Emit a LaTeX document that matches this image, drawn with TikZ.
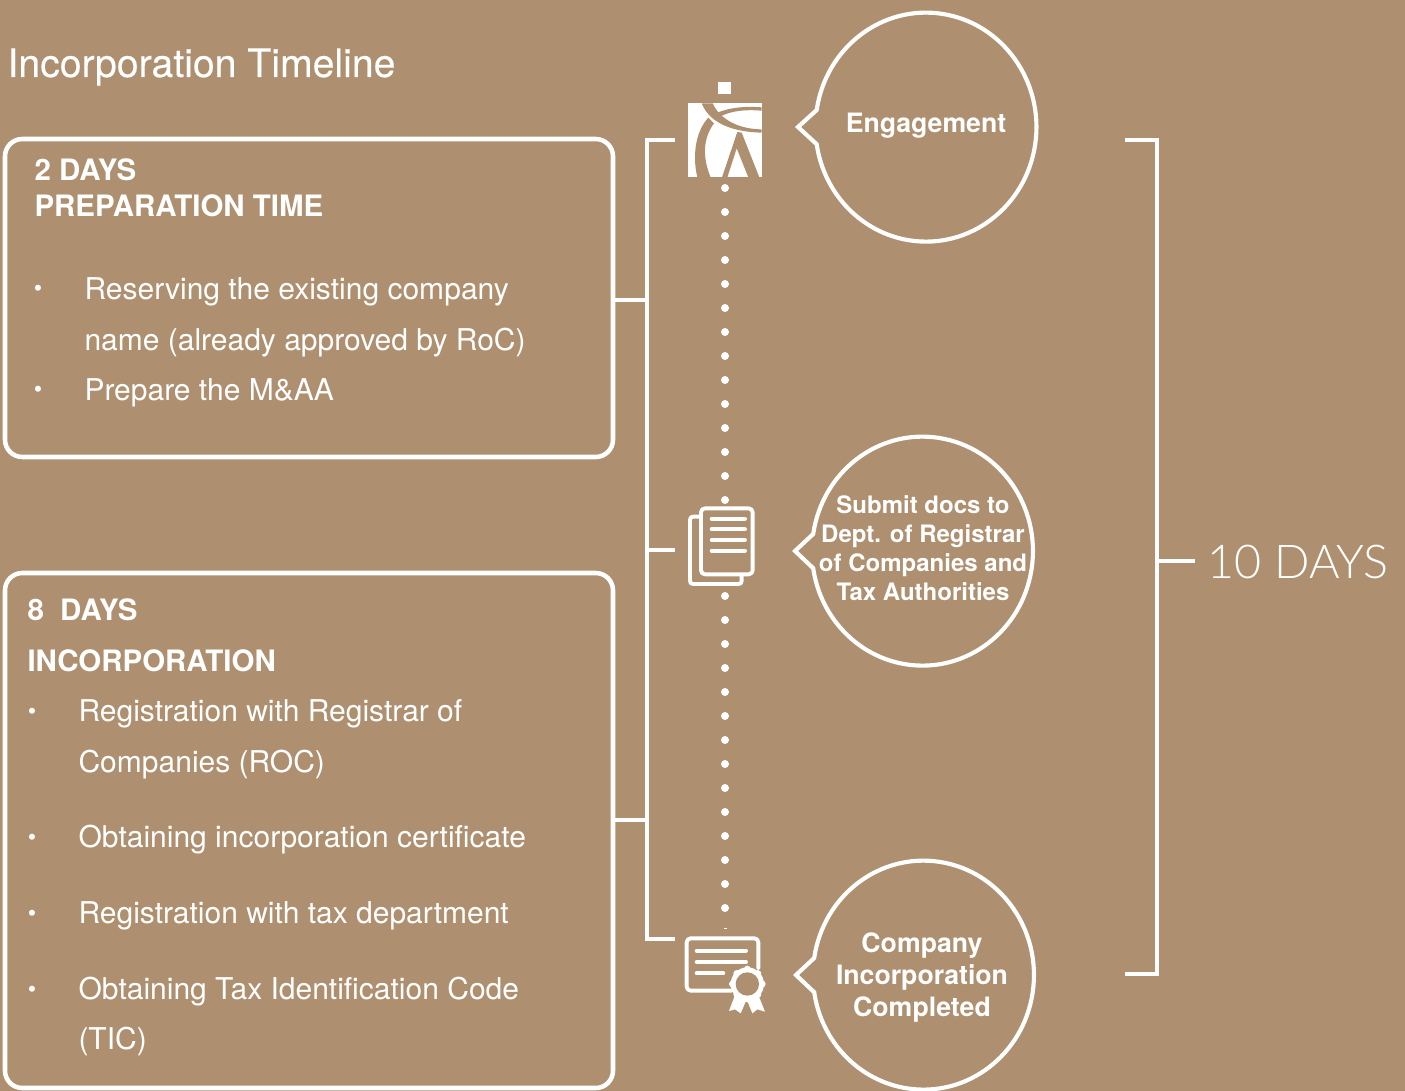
\documentclass[tikz,border=0pt]{standalone}
\usepackage{fontspec}
\usetikzlibrary{calc}
\setmainfont{TeX Gyre Heros}
\newfontfamily\lightfont{Lato Light}
\newfontfamily\titlefont[FakeBold=0.25]{TeX Gyre Heros}
\definecolor{tanbg}{RGB}{174,144,112}
\tikzset{every picture/.style={line width=0.75pt}}
\tikzset{
	rule/.style={draw=white,line width=3.2pt},
	thinrule/.style={draw=white,line width=2.9pt,line cap=round,line join=round},
	infobox/.style={draw=white,line width=3.4pt,rounded corners=13pt,minimum width=456pt,outer sep=0pt,inner sep=0pt},
	titletext/.style={text=white,anchor=base west,inner sep=0pt,font=\titlefont\fontsize{29.4}{34}\selectfont},
	headtext/.style={text=white,anchor=base west,inner sep=0pt,font=\bfseries\fontsize{22.1}{26}\selectfont},
	bodytext/.style={text=white,anchor=base west,inner sep=0pt,font=\fontsize{22.5}{26}\selectfont},
	bullettext/.style={text=white,inner sep=0pt,font=\fontsize{18}{20}\selectfont},
	bubbletext/.style={text=white,align=center,inner sep=0pt,font=\bfseries\fontsize{20}{24}\selectfont},
	bubbleline/.style={draw=white,line width=3.1pt,line join=miter}
}

\begin{document}
\begin{tikzpicture}[x=0.75pt,y=0.75pt,yscale=-1,xscale=1]
	%Shape: Background
	\fill[tanbg] (0,0) rectangle (1405,1091);
	\useasboundingbox (0,0) rectangle (1405,1091);

	% Text Node
	\node[titletext] (title) at (7,77) {Incorporation Timeline};

	%Shape: Boxes
	\node[infobox,minimum height=238.5pt] (prepbox) at (309,298) {};
	\node[infobox,minimum height=386.25pt] (incbox) at (309,830.5) {};

	% Text Node
	\node[headtext] (prephead) at (34,181) {2 DAYS};
	\node[headtext] (preptime) at (34,217) {PREPARATION TIME};
	\node[bullettext] (prepdota) at (38,291) {•};
	\node[bodytext] (prepa) at (84,299) {Reserving the existing company};
	\node[bodytext] (prepb) at (84,350) {name (already approved by RoC)};
	\node[bullettext] (prepdotb) at (38,392) {•};
	\node[bodytext] (prepc) at (84,400) {Prepare the M\&AA};

	% Text Node
	\node[headtext] (inchead) at (27,620) {8\ \ DAYS};
	\node[headtext] (inctitle) at (27,671) {INCORPORATION};
	\node[bullettext] (incdota) at (32,714) {•};
	\node[bodytext] (inca) at (78,721) {Registration with Registrar of};
	\node[bodytext] (incb) at (78,772) {Companies (ROC)};
	\node[bullettext] (incdotb) at (32,840) {•};
	\node[bodytext] (incc) at (78,847) {Obtaining incorporation certificate};
	\node[bullettext] (incdotc) at (32,916) {•};
	\node[bodytext] (incd) at (78,923) {Registration with tax department};
	\node[bullettext] (incdotd) at (32,992) {•};
	\node[bodytext] (ince) at (78,999) {Obtaining Tax Identification Code};
	\node[bodytext] (incf) at (78,1049) {(TIC)};

	%Shape: Left rail
	\coordinate (railtop) at (675,140);
	\coordinate (railcorner) at (647,140);
	\coordinate (railfoot) at (647,939);
	\coordinate (railend) at (675,939);
	\coordinate (railmid) at (647,550);
	\coordinate (docstub) at (675,550);
	\draw[rule] (railtop) -- (railcorner) -- (railfoot) -- (railend);
	\draw[rule] (railmid) -- (docstub);
	\draw[rule] ([yshift=1.5pt]prepbox.east) -- ([yshift=1.5pt]prepbox.east -| railcorner);
	\draw[rule] ([yshift=-7.9pt]incbox.east) -- ([yshift=-7.9pt]incbox.east -| railcorner);

	%Shape: Right bracket
	\coordinate (brtop) at (1125,140);
	\coordinate (brcorner) at (1157,140);
	\coordinate (brfoot) at (1157,974);
	\coordinate (brend) at (1125,974);
	\coordinate (brmid) at (1157,561);
	\coordinate (daysstub) at (1195,561);
	\draw[rule] (brtop) -- (brcorner) -- (brfoot) -- (brend);
	\draw[rule] (brmid) -- (daysstub);
	\node[text=white,anchor=west,inner sep=0pt,font=\lightfont\fontsize{35}{42}\selectfont] (totaldays) at (1207,561.5) {10 DAYS};

	%Shape: Dots
	\foreach \dy in {188,212,...,500}
		\fill[white] (725,\dy) circle (4);
	\foreach \dy in {596,620,...,908}
		\fill[white] (725,\dy) circle (4);
	\fill[white] (723.5,928) rectangle (726.5,929);

	%Shape: Speech bubbles
	\foreach \cx/\cy/\tipx in {926/127/798, 922.5/551/795, 923.5/975/796}
		\draw[bubbleline] ($(\cx,\cy)+(-109.3,-17)$) arc[start angle=188.6,end angle=531.4,x radius=110.5,y radius=114.5] -- (\tipx,\cy) -- cycle;

	% Text Node
	\node[bubbletext] (engage) at (926,126) {Engagement};
	\node[bubbletext,font=\bfseries\fontsize{18}{21.75}\selectfont] (submit) at (923,548) {Submit docs to\\Dept. of Registrar\\of Companies and\\Tax Authorities};
	\node[bubbletext] (company) at (922,978) {Company\\Incorporation\\Completed};

	%Shape: Logo
	\begin{scope}[shift={(640,70)},scale=1/3]
		\fill[white] (235,35) rectangle (273,72);
		\fill[white] (145,100) rectangle (365,322);
		\fill[tanbg] (185,100) .. controls (205,150) and (260,185) .. (365,188) -- (365,178) .. controls (300,178) and (240,150) .. (218,100) -- cycle;
		\fill[tanbg] (232,128) .. controls (270,112) and (320,108) .. (365,112) -- (365,122) .. controls (320,118) and (275,122) .. (244,138) -- cycle;
		\fill[tanbg] (205,143) .. controls (170,180) and (155,250) .. (172,322) -- (212,322) .. controls (190,270) and (185,210) .. (222,160) -- cycle;
		\fill[tanbg] (292,186) -- (305,188) -- (358,322) -- (325,322) -- (290,235) -- (262,322) -- (246,322) -- cycle;
	\end{scope}

	%Shape: Documents
	\begin{scope}[shift={(640,480)},scale=1/3]
		\draw[thinrule] (183,110) -- (160,110) .. controls (153,110) and (150,113) .. (150,120) -- (150,302) .. controls (150,309) and (153,312) .. (160,312) -- (295,312) .. controls (302,312) and (305,309) .. (305,302) -- (305,283);
		\draw[thinrule,rounded corners=3pt] (183,85) rectangle (338,283);
		\foreach \ly in {116,148,180,212}
			\draw[thinrule] (215,\ly) -- (315,\ly);
	\end{scope}

	%Shape: Certificate
	\begin{scope}[shift={(640,900)},scale=1/3]
		\draw[thinrule,rounded corners=3pt] (275,272) -- (140,272) -- (140,115) -- (355,115) -- (355,205);
		\draw[thinrule] (170,152) -- (318,152);
		\draw[thinrule] (170,186) -- (318,186);
		\draw[thinrule] (170,220) -- (250,220);
		\fill[white] (285,285) -- (267,333) -- (285,328) -- (302,340) -- (320,298) -- (337,340) -- (352,328) -- (375,335) -- (355,285) -- cycle;
		\fill[white] (322,252) circle (50);
		\foreach \ang in {0,45,...,315}
			\fill[white] (322,252) ++(\ang:45) circle (10);
		\fill[tanbg] (322,252) circle (35);
	\end{scope}
\end{tikzpicture}
\end{document}
